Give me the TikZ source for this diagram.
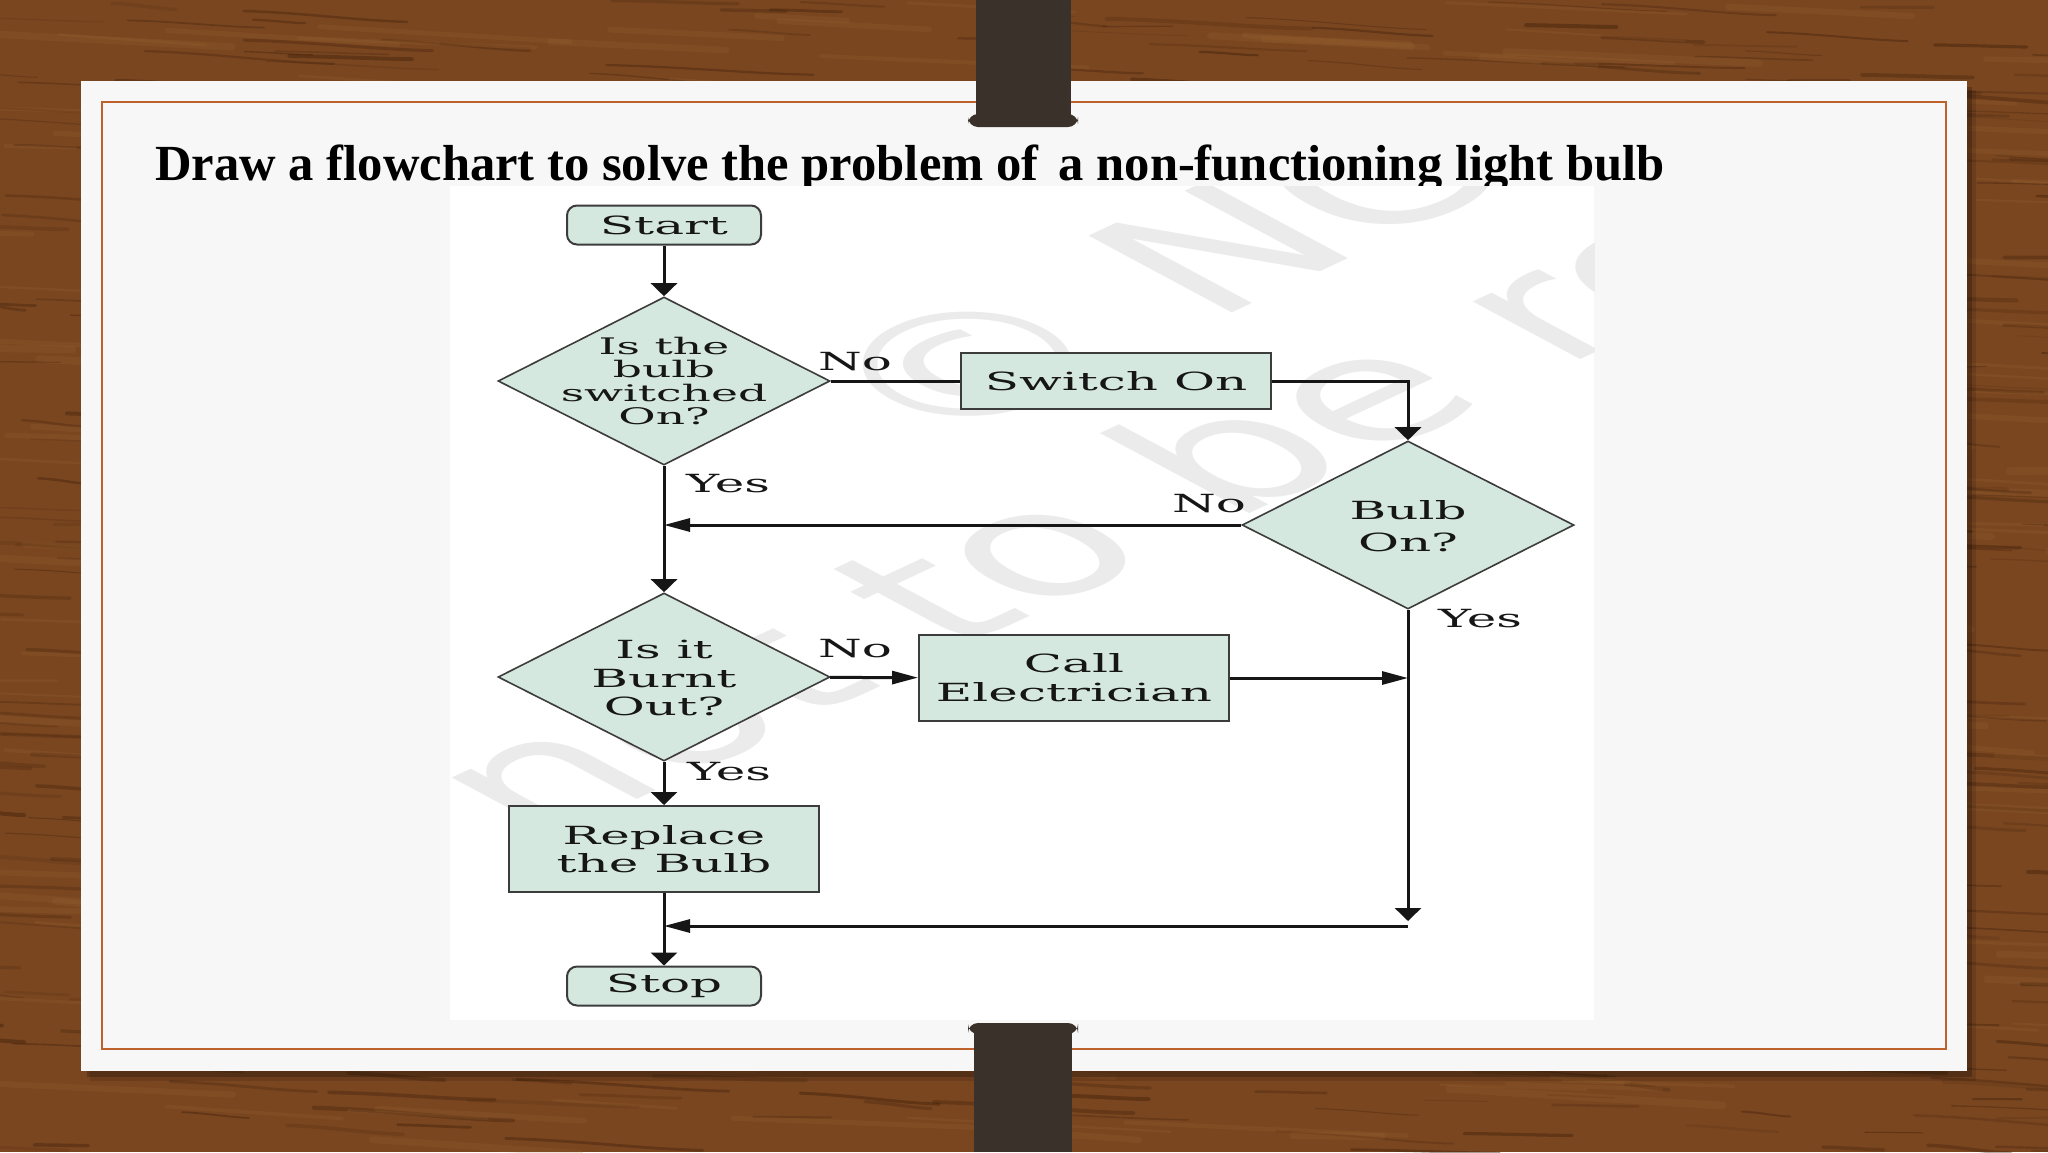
\documentclass[tikz,border=0pt]{standalone}
\usepackage{fontspec}
\setmainfont{Liberation Serif}
\newfontfamily\flowfont[FakeStretch=2.0]{DejaVu Serif}
\newfontfamily\wmfont{DejaVu Sans}
\usetikzlibrary{shapes.geometric,arrows.meta,calc}

\definecolor{wood}{RGB}{122,70,32}
\definecolor{wooddark}{RGB}{70,36,12}
\definecolor{woodlight}{RGB}{160,104,52}
\definecolor{cardbg}{RGB}{247,247,247}
\definecolor{frameorange}{RGB}{190,98,45}
\definecolor{clipcol}{RGB}{58,49,42}
\definecolor{mint}{RGB}{213,232,224}
\definecolor{ink}{RGB}{22,22,22}
\definecolor{edgecol}{RGB}{60,60,60}

\tikzset{
  ftext/.style={font=\flowfont\fontsize{12.5}{14.5}\selectfont, text=ink},
  termbox/.style={ftext, draw=edgecol, line width=1pt, fill=mint, rounded corners=5pt,
     minimum width=97pt, minimum height=19.5pt, inner sep=0pt},
  procbox/.style={ftext, draw=edgecol, line width=1pt, fill=mint, align=center,
     minimum width=155pt, inner sep=0pt},
  decbox/.style={diamond, draw=edgecol, line width=0.8pt, fill=mint,
     minimum width=166pt, minimum height=84pt, inner sep=0pt},
  dectext/.style={ftext, align=center, inner sep=0pt},
  lbl/.style={ftext, inner sep=0pt},
  conn/.style={draw=ink, line width=1.5pt},
  varr/.style={conn, -{Triangle[length=6.5pt,width=13pt]}},
  harr/.style={conn, -{Triangle[length=13pt,width=6.5pt]}},
  wmark/.style={transform shape, rotate=43, anchor=base west, text=black!8, inner sep=0pt,
     font=\wmfont\fontsize{72}{72}\selectfont},
}

\begin{document}
\begin{tikzpicture}[x=0.5pt,y=-0.5pt]
\useasboundingbox (0,0) rectangle (2048,1152);

% wood background
\fill[wood] (0,0) rectangle (2048,1152);
\pgfmathsetseed{11}
\foreach \i in {1,...,700}{
  \pgfmathsetmacro{\xa}{rnd*2150-100}
  \pgfmathsetmacro{\ya}{rnd*1170}
  \pgfmathsetmacro{\len}{40+rnd*180}
  \pgfmathsetmacro{\dy}{(rnd-0.5)*8+0.05*\len}
  \pgfmathsetmacro{\lw}{0.5+rnd*1.6}
  \pgfmathsetmacro{\op}{0.15+rnd*0.35}
  \draw[wooddark, opacity=\op, line width=\lw pt, line cap=round]
     (\xa,\ya) .. controls (\xa+0.4*\len,\ya+0.2*\dy) and (\xa+0.7*\len,\ya+0.9*\dy) .. (\xa+\len,\ya+\dy);
}
\foreach \i in {1,...,300}{
  \pgfmathsetmacro{\xa}{rnd*2150-100}
  \pgfmathsetmacro{\ya}{rnd*1170}
  \pgfmathsetmacro{\len}{60+rnd*240}
  \pgfmathsetmacro{\dy}{(rnd-0.5)*8+0.05*\len}
  \pgfmathsetmacro{\lw}{1+rnd*3}
  \draw[woodlight, opacity=0.18, line width=\lw pt, line cap=round]
     (\xa,\ya) -- (\xa+\len,\ya+\dy);
}

% card with shadow
\fill[black, opacity=0.22] (87,87) rectangle (1972,1077);
\fill[black, opacity=0.12] (90,90) rectangle (1976,1081);
\fill[cardbg] (81,81) rectangle (1967,1071);
\draw[frameorange, line width=1pt] (102,102) rectangle (1946,1049);

% title
\node[anchor=base west, inner sep=0pt, text=black,
      font=\bfseries\fontsize{25.3}{28}\selectfont] (title) at (155,180)
  {Draw a flowchart to solve the problem of\hspace{0.15em} a non-functioning light bulb};

% embedded picture area
\fill[white] (450,186) rectangle (1594,1020);

% watermark (stretched like the embedded picture)
\begin{scope}
  \clip (450,186) rectangle (1594,1020);
  \begin{scope}[xscale=2]
    \node[wmark] (wm1) at (270,845) {not to be republished};
    \node[wmark] (wm2) at (466.5,452) {\char"00A9\ NCERT};
  \end{scope}
\end{scope}

% flowchart nodes
\node[termbox] (start) at (664,225) {Start};
\node[decbox] (d1) at (664,381) {};
\node[dectext, font=\flowfont\fontsize{11.4}{11.75}\selectfont] (d1t) at (664,381)
  {Is the\\bulb\\switched\\On?};
\node[procbox, minimum height=28pt] (sw) at (1116,381) {Switch On};
\node[decbox] (d3) at (1408,525) {};
\node[dectext, font=\flowfont\fontsize{12.5}{16}\selectfont] (d3t) at (1408,526) {Bulb\\On?};
\node[decbox] (d2) at (664,677) {};
\node[dectext, font=\flowfont\fontsize{12.5}{14.25}\selectfont] (d2t) at (664,678) {Is it\\Burnt\\Out?};
\node[procbox, minimum height=43pt, font=\flowfont\fontsize{12.5}{14.5}\selectfont] (call) at (1074,678) {Call\\Electrician};
\node[procbox, minimum height=43pt, font=\flowfont\fontsize{12.5}{14}\selectfont] (rep) at (664,849) {Replace\\the Bulb};
\node[termbox] (stop) at (664,986) {Stop};

% labels
\node[lbl] (l1) at (855,362) {No};
\node[lbl] (l2) at (728,484) {Yes};
\node[lbl] (l3) at (1209,504) {No};
\node[lbl] (l4) at (1480,619) {Yes};
\node[lbl] (l5) at (855,649) {No};
\node[lbl] (l6) at (729,772) {Yes};

% connectors
\coordinate (j) at (1408,926);
\coordinate (jt) at (1408,921);
\draw[varr] (start) -- (d1);
\draw[conn] (d1) -- (sw);
\draw[varr] (sw.east) -| (d3.north);
\draw[varr] (d1) -- (d2);
\draw[harr] (d3.west) -- (d3.west -| d1.south);
\draw[harr] (d2) -- (call);
\draw[harr] (call.east) -- (call.east -| d3.south);
\draw[varr] (d3.south) -- (jt);
\draw[harr] (j) -- (j -| rep.south);
\draw[varr] (d2) -- (rep);
\draw[varr] (rep) -- (stop);

% binder clips
\fill[clipcol] (976,0) rectangle (1071,122);
\fill[clipcol, rounded corners=5pt] (968,114) rectangle (1078,127);
\fill[clipcol] (974,1030) rectangle (1072,1152);
\fill[clipcol, rounded corners=5pt] (968,1023) rectangle (1078,1034);
\end{tikzpicture}
\end{document}
